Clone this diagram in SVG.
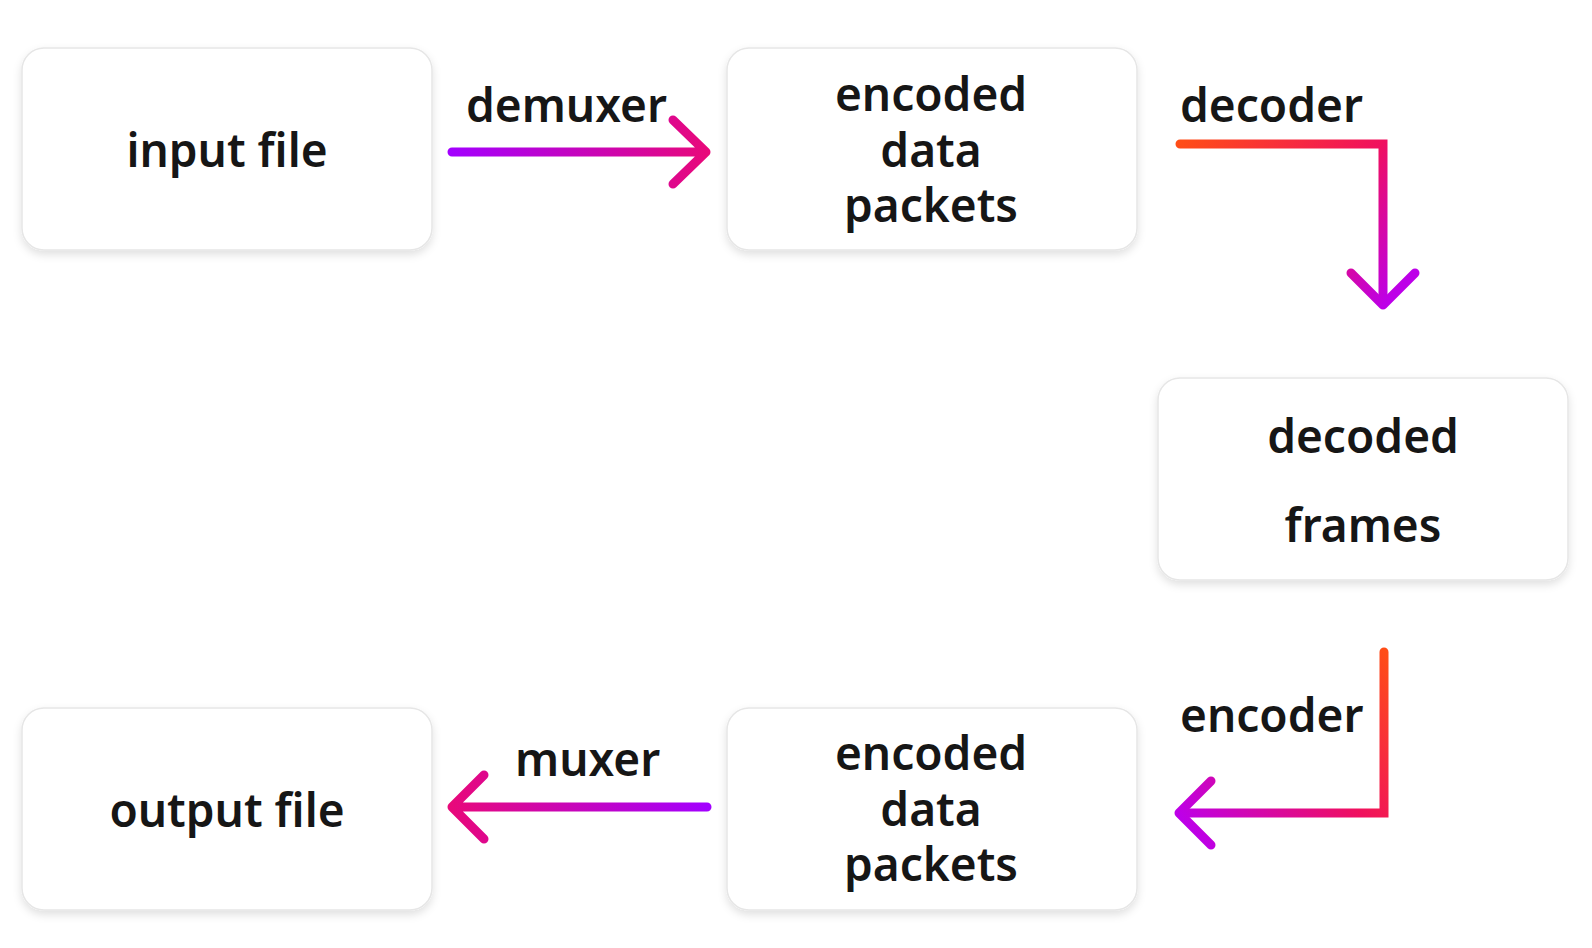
<svg xmlns="http://www.w3.org/2000/svg" width="1592" height="948" viewBox="0 0 1592 948">
<defs>
<style>
.box{fill:#ffffff;stroke:#e6e6e6;stroke-width:1.5;filter:url(#sh)}
.t{font-family:"Noto Sans","Open Sans","Liberation Sans",sans-serif;font-weight:600;font-size:46px;fill:#161616;text-anchor:middle}
.lbl{font-family:"Noto Sans","Open Sans","Liberation Sans",sans-serif;font-weight:600;font-size:46px;fill:#161616}
.arr{fill:none;stroke-width:9;stroke-linecap:round;stroke-linejoin:round}
.el{fill:none;stroke-width:9;stroke-linecap:round;stroke-linejoin:miter}
</style>
<filter id="sh" x="-10%" y="-10%" width="120%" height="130%">
<feDropShadow dx="0" dy="4" stdDeviation="4" flood-color="#000" flood-opacity="0.12"/>
</filter>
<linearGradient id="gDemux" gradientUnits="userSpaceOnUse" x1="450" y1="152" x2="708" y2="152">
<stop offset="0" stop-color="#a300ff"/><stop offset="1" stop-color="#e8097a"/>
</linearGradient>
<linearGradient id="gMux" gradientUnits="userSpaceOnUse" x1="707" y1="807" x2="450" y2="807">
<stop offset="0" stop-color="#a300ff"/><stop offset="1" stop-color="#e8097a"/>
</linearGradient>
<linearGradient id="gDec" gradientUnits="userSpaceOnUse" x1="1180" y1="144" x2="1383" y2="307">
<stop offset="0" stop-color="#ff4d17"/><stop offset="0.6" stop-color="#f0105e"/><stop offset="1" stop-color="#bd00e8"/>
</linearGradient>
<linearGradient id="gEnc" gradientUnits="userSpaceOnUse" x1="1384" y1="652" x2="1177" y2="813">
<stop offset="0" stop-color="#ff4d17"/><stop offset="0.45" stop-color="#f0105e"/><stop offset="1" stop-color="#bd00e8"/>
</linearGradient>
</defs>

<g id="node-input">
<rect class="box" x="22" y="48" width="410" height="202" rx="22"/>
<text class="t" x="227" y="167">input file</text>
</g>
<g id="node-encoded-top">
<rect class="box" x="727" y="48" width="410" height="202" rx="22"/>
<text class="t" x="931" y="111">encoded</text>
<text class="t" x="931" y="167">data</text>
<text class="t" x="931" y="222">packets</text>
</g>
<g id="node-decoded">
<rect class="box" x="1158" y="378" width="410" height="202" rx="22"/>
<text class="t" x="1363" y="453">decoded</text>
<text class="t" x="1363" y="542">frames</text>
</g>
<g id="node-encoded-bottom">
<rect class="box" x="727" y="708" width="410" height="202" rx="22"/>
<text class="t" x="931" y="770">encoded</text>
<text class="t" x="931" y="826">data</text>
<text class="t" x="931" y="881">packets</text>
</g>
<g id="node-output">
<rect class="box" x="22" y="708" width="410" height="202" rx="22"/>
<text class="t" x="227" y="827">output file</text>
</g>

<g id="connectors">
<g id="demuxer">
<path class="arr" stroke="url(#gDemux)" d="M452 152 H706 M673 120 L706 152 L673 184"/>
<text class="lbl" x="466" y="122">demuxer</text>
</g>
<g id="decoder">
<path class="el" stroke="url(#gDec)" d="M1180 144 H1383 V304"/>
<path class="arr" stroke="url(#gDec)" d="M1351 273 L1383 305 L1415 273"/>
<text class="lbl" x="1180" y="122">decoder</text>
</g>
<g id="encoder">
<path class="el" stroke="url(#gEnc)" d="M1384 652 V813 H1180"/>
<path class="arr" stroke="url(#gEnc)" d="M1211 781 L1179 813 L1211 845"/>
<text class="lbl" x="1180" y="732">encoder</text>
</g>
<g id="muxer">
<path class="arr" stroke="url(#gMux)" d="M707 807 H452 M484 775 L452 807 L484 839"/>
<text class="lbl" x="515" y="776">muxer</text>
</g>
</g>
</svg>
